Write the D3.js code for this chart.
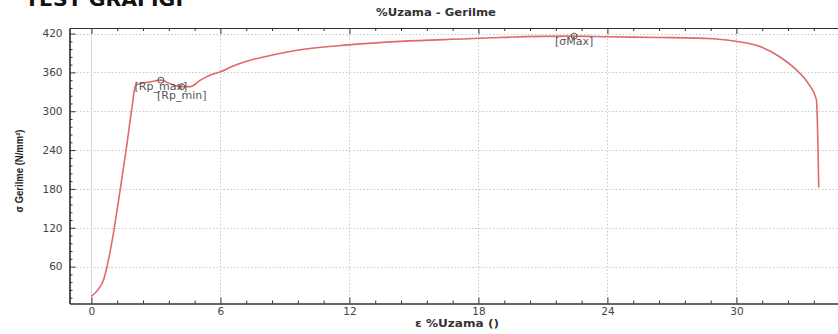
<!DOCTYPE html>
<html><head><meta charset="utf-8">
<script src="https://cdn.jsdelivr.net/npm/d3@7/dist/d3.min.js"></script>
<style>
html,body{margin:0;padding:0;background:#fff;overflow:hidden;}
svg{display:block;}
</style></head>
<body>
<svg id="c" width="838" height="334"></svg>
<script>
// ---- data ----
const strain = [0, 0.3, 0.57, 0.73, 1.03, 1.27, 1.42, 1.66, 1.89, 2.05, 2.28, 2.7, 3.23, 3.7, 4.14, 4.6, 5.07, 5.53, 6.0, 6.6, 7.3, 8.17, 9.72, 11.95, 14.37, 17.5, 19.0, 22.4, 24, 26.5, 28.9, 30.2, 31.0, 31.97, 32.75, 33.36, 33.72, 33.83];
const stress = [14, 24, 40, 61, 113, 164, 197, 251, 307, 340, 343, 345, 348, 342, 338, 338, 348, 356, 361, 370, 378, 385, 395, 402.5, 408, 412, 414, 416, 415, 414, 412, 407, 401, 385, 365, 342, 318, 182];
const markerNames = ["[Rp_max]", "[Rp_min]", "[σMax]"];
const markerStrain = [3.23, 4.2, 22.45];
const markerStress = [348, 338, 416];
const xTicks = [0, 6, 12, 18, 24, 30];
const yTicks = [60, 120, 180, 240, 300, 360, 420];
const chartTitle = "TEST GRAFIGI";
const plotTitle = "%Uzama - Gerilme";
const xLabel = "ε %Uzama ()";
const yLabel = "σ Gerilme (N/mm²)";

// ---- layout ----
const L = 69.5, R = 843.5, T = 28, B = 303.5;
const x = d3.scaleLinear().domain([-1.02, 34.98]).range([L, R]);
const y = d3.scaleLinear().domain([3, 428.6]).range([B, T]);
const svg = d3.select("#c");
const font = "'DejaVu Sans', Verdana, sans-serif";

// titles
svg.append("text").attr("x", 25).attr("y", 5.5).attr("font-family", font)
  .attr("font-weight", "bold").attr("font-size", 20).attr("fill", "#111")
  .attr("textLength", 158).attr("lengthAdjust", "spacingAndGlyphs")
  .text(chartTitle);
svg.append("text").attr("x", 436).attr("y", 16).attr("text-anchor", "middle")
  .attr("font-family", font).attr("font-weight", "bold").attr("font-size", 10.5)
  .attr("textLength", 120).attr("lengthAdjust", "spacingAndGlyphs")
  .attr("fill", "#333").text(plotTitle);

// grid
const g = svg.append("g");
g.selectAll("line.gy").data(yTicks).join("line")
  .attr("x1", L).attr("x2", R).attr("y1", d => Math.round(y(d)) + 0.5).attr("y2", d => Math.round(y(d)) + 0.5)
  .attr("stroke", "#c8c8c8").attr("stroke-dasharray", "1.5,2");
g.selectAll("line.gx").data(xTicks).join("line")
  .attr("y1", T).attr("y2", B).attr("x1", d => Math.round(x(d)) + 0.5).attr("x2", d => Math.round(x(d)) + 0.5)
  .attr("stroke", d => d === 0 ? "#d8d8d8" : "#c8c8c8")
  .attr("stroke-dasharray", d => d === 0 ? null : "1.5,2");

// minor tick positions
const xMinor = d3.range(0, 35, 1.2).filter((d, i) => i % 5 !== 0);
const yMinor = d3.range(12, 430, 12).filter(d => Math.abs(d % 60) > 1e-6 && Math.abs(d % 60 - 60) > 1e-6);

function styleAxis(sel) {
  sel.selectAll("path").attr("stroke", "#333").attr("stroke-width", 1.2);
  sel.selectAll("line").attr("stroke", "#333");
  sel.selectAll("text").attr("font-family", font).attr("font-size", 10.5).attr("fill", "#444");
}

// bottom axis
const xb = svg.append("g").attr("transform", `translate(0,${B})`)
  .call(d3.axisBottom(x).tickValues(xTicks).tickSize(-6).tickSizeOuter(0).tickPadding(4).tickFormat(d3.format("d")));
styleAxis(xb);
const xbm = svg.append("g").attr("transform", `translate(0,${B})`)
  .call(d3.axisBottom(x).tickValues(xMinor).tickSize(-3).tickSizeOuter(0).tickFormat(""));
styleAxis(xbm);
// top axis
const xt = svg.append("g").attr("transform", `translate(0,${T})`)
  .call(d3.axisTop(x).tickValues(xTicks).tickSize(-6).tickSizeOuter(0).tickFormat(""));
styleAxis(xt);
const xtm = svg.append("g").attr("transform", `translate(0,${T})`)
  .call(d3.axisTop(x).tickValues(xMinor).tickSize(-3).tickSizeOuter(0).tickFormat(""));
styleAxis(xtm);
xt.selectAll("path").attr("stroke-width", 1);
xtm.selectAll("path").attr("stroke-width", 1);
// left axis
const yl = svg.append("g").attr("transform", `translate(${L},0)`)
  .call(d3.axisLeft(y).tickValues(yTicks).tickSize(-6).tickSizeOuter(0).tickPadding(7).tickFormat(d3.format("d")));
styleAxis(yl);
const ylm = svg.append("g").attr("transform", `translate(${L},0)`)
  .call(d3.axisLeft(y).tickValues(yMinor).tickSize(-3).tickSizeOuter(0).tickFormat(""));
styleAxis(ylm);

// axis labels
svg.append("text").attr("x", 457).attr("y", 327).attr("text-anchor", "middle")
  .attr("font-family", font).attr("font-weight", "bold").attr("font-size", 10.5)
  .attr("textLength", 84).attr("lengthAdjust", "spacingAndGlyphs")
  .attr("fill", "#333").text(xLabel);
svg.append("text").attr("transform", "translate(23,171) rotate(-90)").attr("text-anchor", "middle")
  .attr("font-family", "'Liberation Sans Narrow','Liberation Sans',Arial,sans-serif").attr("font-weight", "bold")
  .attr("font-size", 10).attr("fill", "#222")
  .attr("textLength", 83).attr("lengthAdjust", "spacingAndGlyphs").text(yLabel);

// curve
svg.append("clipPath").attr("id", "clip").append("rect")
  .attr("x", L).attr("y", T).attr("width", R - L).attr("height", B - T);
const pts = strain.map((s, i) => [s, stress[i]]);
svg.append("path").datum(pts).attr("clip-path", "url(#clip)")
  .attr("d", d3.line().x(d => x(d[0])).y(d => y(d[1])).curve(d3.curveMonotoneX))
  .attr("fill", "none").attr("stroke", "#e06a6a").attr("stroke-width", 1.6);

// markers
const mk = markerNames.map((n, i) => ({ n, s: markerStrain[i], v: markerStress[i] }));
svg.selectAll("circle.m").data(mk).join("circle")
  .attr("cx", d => x(d.s)).attr("cy", d => y(d.v)).attr("r", 3)
  .attr("fill", "none").attr("stroke", "#555").attr("stroke-width", 1);
const dys = [10, 12, 9];
svg.selectAll("text.m").data(mk).join("text")
  .attr("x", d => x(d.s)).attr("y", (d, i) => y(d.v) + dys[i]).attr("text-anchor", "middle")
  .attr("font-family", font).attr("font-size", 11).attr("fill", "#555").text(d => d.n);
</script>
</body></html>
